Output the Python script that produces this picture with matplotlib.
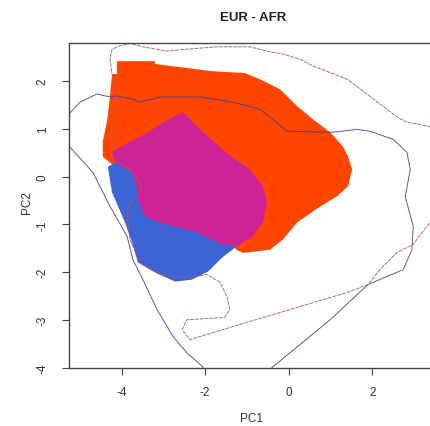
import matplotlib
matplotlib.use("Agg")
import matplotlib.pyplot as plt

plt.rcParams['font.family'] = ['Liberation Sans', 'DejaVu Sans']

# filled regions (PC1, PC2)
eur_x = [-4.11, -3.20, -3.20, -2.65, -1.84, -1.05, -0.64, -0.21, 0.20, 0.58, 0.99, 1.30,
         1.42, 1.52, 1.42, 1.16, 0.75, 0.20, -0.14, -0.45, -1.09, -1.26, -2.12, -4.23,
         -4.45, -4.45, -4.35, -4.28, -4.23, -4.11]
eur_y = [2.42, 2.42, 2.36, 2.30, 2.21, 2.17, 2.02, 1.83, 1.48, 1.20, 0.93, 0.63,
         0.42, 0.15, -0.20, -0.41, -0.63, -0.96, -1.32, -1.53, -1.60, -1.53, -0.48, 0.26,
         0.41, 0.74, 1.16, 1.67, 2.15, 2.15]

afr_x = [-4.33, -4.23, -3.92, -3.75, -3.61, -3.20, -2.72, -2.32, -1.93, -1.60, -1.24,
         -2.12, -3.56, -4.16]
afr_y = [0.20, -0.33, -0.96, -1.38, -1.80, -2.01, -2.20, -2.16, -1.99, -1.70, -1.46,
         -0.48, 0.15, 0.30]

both_x = [-2.53, -2.08, -1.45, -0.93, -0.62, -0.52, -0.62, -0.86, -1.24, -1.60, -2.24,
          -3.03, -3.44, -3.61, -3.63, -3.75, -4.16, -4.23, -3.92, -3.44, -2.96]
both_y = [1.35, 0.95, 0.47, 0.15, -0.20, -0.54, -0.96, -1.25, -1.46, -1.42, -1.15,
          -0.98, -0.84, -0.48, -0.27, 0.09, 0.30, 0.51, 0.68, 0.89, 1.16]

# contour lines
blue_x = [-5.48, -5.26, -5.00, -4.59, -4.28, -4.11, -3.73, -3.56, -3.08, -2.12, -1.33,
          -0.69, -0.38, -0.04, 1.06, 1.64, 1.95, 2.50, 2.83, 2.91, 2.79, 2.98, 2.95,
          2.74, 1.90, 0.99, 0.27, -0.40, -0.50, -2.12, -2.05, -2.44, -2.77, -3.15,
          -3.49, -3.73, -3.87, -4.28, -4.69, -5.26, -5.48]
blue_y = [1.25, 1.31, 1.56, 1.73, 1.67, 1.69, 1.62, 1.56, 1.67, 1.67, 1.56,
          1.41, 1.20, 0.95, 0.93, 0.99, 0.95, 0.78, 0.51, 0.15, -0.42, -1.04, -1.53,
          -1.95, -2.26, -3.00, -3.52, -4.00, -4.15, -4.15, -3.99, -3.69, -3.35, -2.79,
          -2.16, -1.74, -1.25, -0.62, 0.09, 0.64, 0.78]

red_x = [3.62, 3.38, 2.83, 2.59, 1.95, 1.40, 0.58, 0.27, -0.14, -0.52, -0.93, -1.72,
         -2.43, -2.91, -3.49, -3.80, -4.04, -4.23, -4.28, -4.23, -4.16, -4.09, -4.11,
         -4.23, -4.23, -3.80, -3.56, -3.51, -3.80, -3.87, -3.80, -3.56, -3.08, -2.36,
         -1.96, -1.64, -1.48, -1.41, -1.53, -2.44, -2.55, -2.36, -2.12, -1.33, -0.14,
         0.58, 1.40, 1.90, 2.18, 2.59, 2.98, 3.38, 3.62]
red_y = [1.03, 1.05, 1.14, 1.25, 1.68, 2.04, 2.32, 2.46, 2.57, 2.63, 2.72, 2.72,
         2.67, 2.63, 2.72, 2.79, 2.74, 2.67, 2.46, 2.15, 1.98, 1.62, 0.99,
         0.57, 0.36, 0.15, -0.12, -0.33, -0.54, -0.75, -1.32, -1.80, -2.05, -2.12,
         -2.05, -2.22, -2.51, -2.78, -2.95, -3.00, -3.21, -3.42, -3.35, -3.14, -2.83,
         -2.64, -2.43, -2.26, -1.95, -1.59, -1.42, -0.96, -0.79]

xticks = [-4, -2, 0, 2]
yticks = [-4, -3, -2, -1, 0, 1, 2]

fig = plt.figure(figsize=(4.30, 4.27), dpi=100)
ax = fig.add_axes([69 / 430, 1 - 368.5 / 427, 368 / 430, 324.5 / 427])

ax.fill(eur_x, eur_y, color='#ff4500', lw=0, zorder=1)
ax.fill(afr_x, afr_y, color='#3c64d7', lw=0, zorder=1)
ax.fill(both_x, both_y, color='#cd2396', lw=0, zorder=1)

ax.plot(blue_x, blue_y, color='#3c3c96', lw=0.7, alpha=0.85, zorder=2)
ax.plot(red_x, red_y, color='#b05a5a', lw=0.7, ls=(0, (4, 1)), alpha=0.9, zorder=2)

ax.set_xlim(-5.26, 3.55)
ax.set_ylim(-4.0, 2.80)
ax.set_xticks(xticks)
ax.set_yticks(yticks)
ax.set_xticklabels([str(v) for v in xticks])

for s in ax.spines.values():
    s.set_color('#444444')
    s.set_linewidth(1.0)
ax.tick_params(axis='x', direction='out', length=5, width=0.8, color='#444444',
               labelsize=8.5, labelcolor='#333333', pad=8)
ax.tick_params(axis='y', direction='out', length=5, width=0.8, color='#444444',
               labelsize=8.5, labelcolor='#333333', pad=14)
ax.set_yticklabels([str(v) for v in yticks], rotation=90, va='center', ha='center')

ax.set_xlabel('PC1', fontsize=8.5, color='#333333')
ax.xaxis.set_label_coords(0.497, -0.137)
ax.set_ylabel('PC2', fontsize=8.5, color='#333333')
ax.yaxis.set_label_coords(-0.098, 0.51)

fig.text(253 / 430, 1 - 18 / 427, 'EUR - AFR', ha='center', va='center',
         fontsize=9.5, fontweight='bold', color='#222222')

fig.savefig('out.png', dpi=100)
